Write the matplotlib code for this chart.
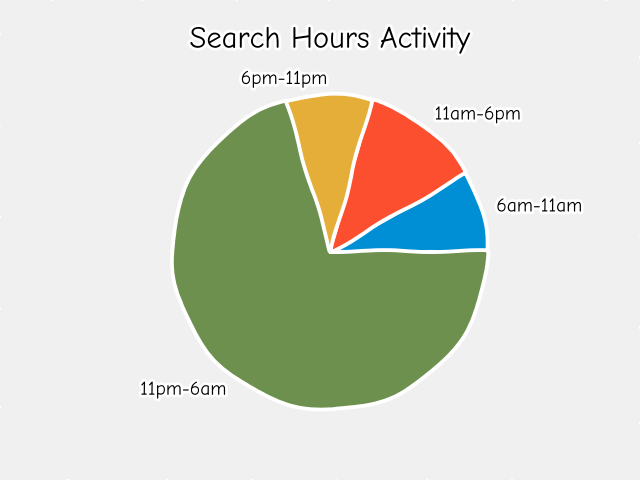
import matplotlib
matplotlib.use("Agg")
import matplotlib.pyplot as plt

plt.style.use('fivethirtyeight')

# share of searches per time slot
slots = ['6am-11am', '11am-6pm', '6pm-11pm', '11pm-6am']
shares = [8.4, 12.4, 8.8, 70.4]
colors = ['#008fd5', '#fc4f30', '#e5ae38', '#6d904f']

with plt.xkcd():
    fig = plt.figure(figsize=(6.4, 4.8), dpi=100)
    fig.patch.set_facecolor('#f0f0f0')
    ax = fig.add_axes([0.209, 0.0667, 0.6125, 0.8167])
    ax.set_facecolor('#f0f0f0')
    ax.pie(shares, labels=slots, colors=colors, startangle=0,
           wedgeprops={'edgecolor': 'white', 'linewidth': 1.5},
           textprops={'fontsize': 14})
    ax.set_xlim(-1.25, 1.25)
    ax.set_ylim(-1.25, 1.25)
    ax.set_aspect('equal', adjustable='box')
    ax.set_title('Search Hours Activity', fontsize=22)
    fig.savefig('out.png', facecolor=fig.get_facecolor())
